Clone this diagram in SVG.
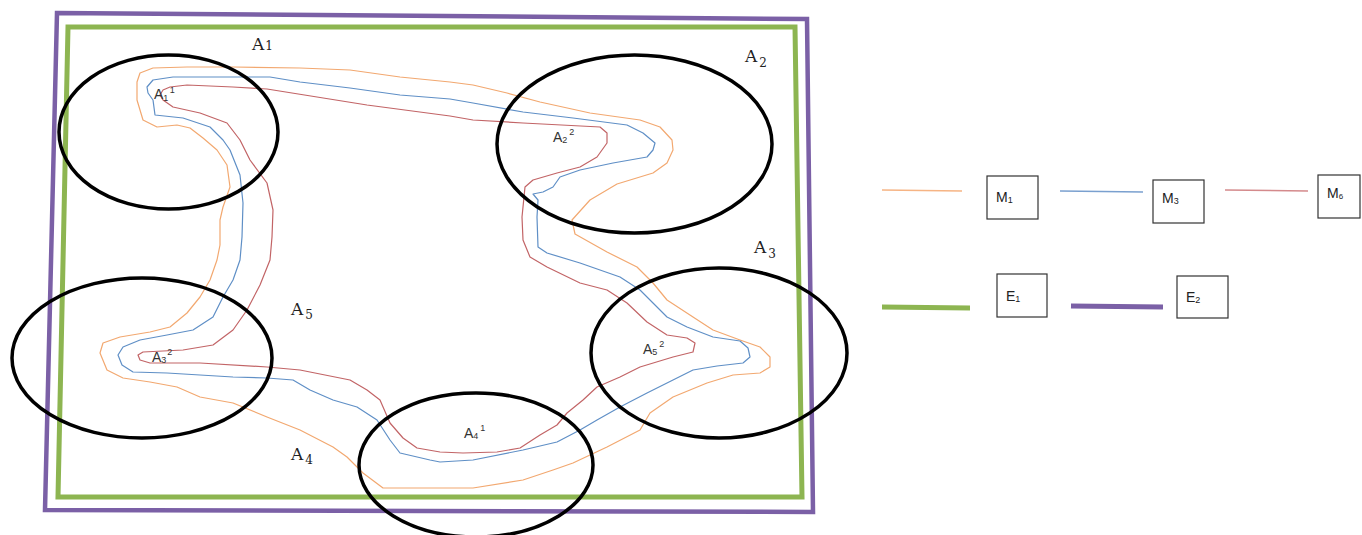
<svg xmlns="http://www.w3.org/2000/svg" width="1362" height="535" viewBox="0 0 1362 535">
<style>
.frame{fill:none;stroke-linejoin:miter}
.e1{stroke:#8db551;stroke-width:5}
.e2{stroke:#7b60a6;stroke-width:4.5}
.zone{fill:none;stroke:#000;stroke-width:3.5}
.m{fill:none;stroke-width:1.2;stroke-linejoin:round}
.m1{stroke:#f2a870}
.m3{stroke:#5f8fc6}
.m6{stroke:#c26466}
.big{font-family:"DejaVu Serif","Liberation Serif",serif;font-size:17px;fill:#222}
.sm{font-family:"Liberation Sans","DejaVu Sans",sans-serif;font-size:14px;fill:#333}
.lg{font-family:"Liberation Sans","DejaVu Sans",sans-serif;font-size:14px;fill:#222}
.box{fill:#fff;stroke:#333;stroke-width:1.2}
</style>
<rect width="1362" height="535" fill="#fff"/>
<g id="frames">
<polygon id="E2-frame" class="frame e2" points="57,13 807,19 813,512 45,510"/>
<polygon id="E1-frame" class="frame e1" points="68,27 795,27 802,497 58,497"/>
</g>
<g id="connectors">
<polygon id="M1-curve" class="m m1" points="137,82 140,73 153,68 187,67 233,67 300,68 350,70 400,77 450,82 473,85 507,93 540,102 590,113 640,120 660,127 672,140 673,150 667,163 653,173 617,184 590,200 572,220 575,234 607,252 637,267 653,283 667,300 693,317 713,330 740,340 760,347 770,357 770,367 760,373 733,375 707,383 673,397 650,413 640,430 607,447 573,463 553,470 523,480 473,488 430,488 383,488 363,473 347,457 333,447 300,430 267,417 233,403 200,397 177,387 150,382 123,378 107,370 100,353 103,343 120,337 150,332 170,327 187,313 200,297 210,280 217,260 220,245 220,220 223,207 230,187 227,165 217,150 203,138 190,128 177,125 157,127 143,120 137,100"/>
<polyline id="M3-curve" class="m m3" points="543,192 533,194 538,200 537,217 538,247 547,253 580,263 620,277 640,290 653,303 667,317 687,327 713,337 740,341 748,348 750,357 743,363 717,366 693,370 673,380 647,393 620,407 597,420 580,430 557,442 523,450 473,460 440,462 430,460 400,453 390,440 377,420 357,407 333,400 310,390 293,380 267,378 233,377 200,375 167,373 133,372 122,365 118,355 123,347 140,340 167,335 193,330 213,317 223,297 233,280 240,260 242,237 243,203 240,175 230,150 223,140 210,127 183,118 155,115 153,100 148,93 147,87 153,80 173,77 233,77 270,77 300,82 350,88 400,95 450,99 473,103 523,112 573,118 627,125 643,133 655,143 653,150 647,157 613,163 580,170 560,177 553,187 543,192"/>
<polygon id="M6-curve" class="m m6" points="160,95 163,90 170,87 187,85 233,87 267,89 317,97 367,105 450,116 473,120 523,123 600,127 607,133 607,143 597,157 580,167 557,173 533,180 525,187 522,217 523,240 530,257 547,267 580,283 607,290 627,303 647,322 667,335 687,338 695,343 693,352 673,357 640,367 620,377 597,387 583,400 567,413 557,425 540,435 520,448 497,452 463,453 440,452 417,448 403,438 390,423 380,400 367,390 350,380 300,370 267,367 200,363 150,363 140,360 138,355 143,352 183,350 213,345 233,330 247,310 260,285 270,260 272,237 273,210 267,183 250,160 240,140 227,123 200,113 173,107 163,100"/>
</g>
<g id="zone-A1"><ellipse class="zone" cx="168.5" cy="132" rx="109.5" ry="77"/></g>
<g id="zone-A2"><ellipse class="zone" cx="634.5" cy="144" rx="137.5" ry="89"/></g>
<g id="zone-A3"><ellipse class="zone" cx="142" cy="358" rx="130" ry="80"/></g>
<g id="zone-A4"><ellipse class="zone" cx="476" cy="465" rx="117" ry="72"/></g>
<g id="zone-A5"><ellipse class="zone" cx="719" cy="353" rx="128" ry="85"/></g>
<g id="labels">
<text class="big" x="252" y="50">A<tspan font-size="12" dx="1">1</tspan></text>
<text class="big" x="745" y="62">A<tspan font-size="12" dx="2" dy="5">2</tspan></text>
<text class="big" x="754" y="253">A<tspan font-size="12" dx="2" dy="5">3</tspan></text>
<text class="big" x="291" y="315">A<tspan font-size="12" dx="2" dy="4">5</tspan></text>
<text class="big" x="291" y="460">A<tspan font-size="12" dx="2" dy="4">4</tspan></text>
<text class="sm" x="154" y="99">A<tspan font-size="9" dy="2">1</tspan><tspan font-size="9" dx="2" dy="-8">1</tspan></text>
<text class="sm" x="553" y="142">A<tspan font-size="9" dy="1">2</tspan><tspan font-size="9" dx="2" dy="-8">2</tspan></text>
<text class="sm" x="152" y="362">A<tspan font-size="9" dy="1">3</tspan><tspan font-size="9" dx="1" dy="-8">2</tspan></text>
<text class="sm" x="464" y="438">A<tspan font-size="9" dy="1">4</tspan><tspan font-size="9" dx="2" dy="-8">1</tspan></text>
<text class="sm" x="643" y="354">A<tspan font-size="9" dy="1">5</tspan><tspan font-size="9" dx="2" dy="-8">2</tspan></text>
</g>
<g id="legend-M1">
<line x1="882" y1="190" x2="962" y2="191" stroke="#f6b484" stroke-width="1.5"/>
<rect class="box" x="987" y="176" width="51" height="43"/>
<text class="lg" x="996" y="202">M<tspan font-size="9" dy="1">1</tspan></text>
</g>
<g id="legend-M3">
<line x1="1060" y1="191" x2="1143" y2="192" stroke="#7aa0cf" stroke-width="1.5"/>
<rect class="box" x="1153" y="180" width="51" height="43"/>
<text class="lg" x="1162" y="203">M<tspan font-size="9" dy="1">3</tspan></text>
</g>
<g id="legend-M6">
<line x1="1225" y1="190" x2="1308" y2="191" stroke="#d48a8c" stroke-width="1.5"/>
<rect class="box" x="1318" y="175" width="42" height="43"/>
<text class="lg" x="1327" y="198" font-size="13">M<tspan font-size="8" dy="1">6</tspan></text>
</g>
<g id="legend-E1">
<line x1="882" y1="307" x2="970" y2="308" stroke="#8db551" stroke-width="5"/>
<rect class="box" x="997" y="274" width="50" height="43"/>
<text class="lg" x="1006" y="301">E<tspan font-size="9" dy="1">1</tspan></text>
</g>
<g id="legend-E2">
<line x1="1071" y1="306" x2="1163" y2="307" stroke="#7b60a6" stroke-width="5"/>
<rect class="box" x="1177" y="276" width="51" height="42"/>
<text class="lg" x="1186" y="302">E<tspan font-size="9" dy="1">2</tspan></text>
</g>
</svg>
